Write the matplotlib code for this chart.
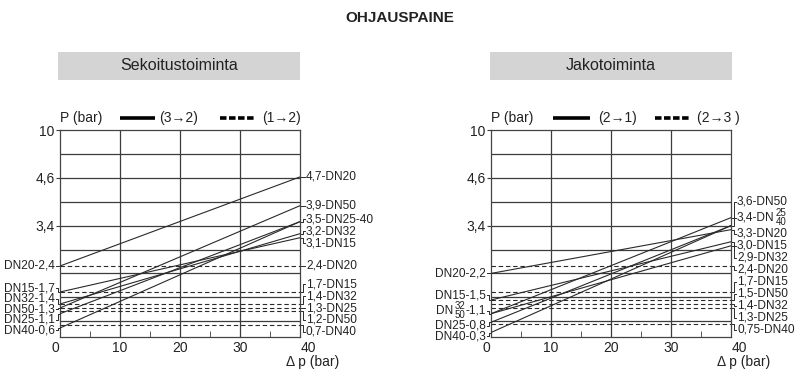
import numpy as np
import matplotlib
matplotlib.use('Agg')
import matplotlib.pyplot as plt
import matplotlib.transforms as mtransforms
from matplotlib.patches import Rectangle
from matplotlib.ticker import NullLocator

plt.rcParams['font.family'] = ['Liberation Sans Narrow', 'Liberation Sans', 'DejaVu Sans']

# ---- data ----
SIZES = ['15', '20', '25', '32', '40', '50']
DP = [0, 40]

MIX_START = [1.7, 2.4, 1.1, 1.4, 0.6, 1.3]    # (3→2) at dp = 0
MIX_END = [3.1, 4.7, 3.5, 3.2, 3.5, 3.9]      # (3→2) at dp = 40
MIX_FLAT = [1.7, 2.4, 1.3, 1.4, 0.7, 1.2]     # (1→2)

DIV_START = [1.5, 2.2, 0.8, 1.1, 0.3, 1.1]    # (2→1) at dp = 0
DIV_END = [3.0, 3.3, 3.4, 2.9, 3.4, 3.6]      # (2→1) at dp = 40
DIV_FLAT = [1.7, 2.4, 1.3, 1.4, 0.75, 1.5]    # (2→3)

Y_TICKS = [3.4, 4.6, 10]
X_TICKS = [0, 10, 20, 30, 40]

# the P axis on the paper is stretched: piecewise map P -> px above the x axis
P_ANCH = [0, 0.6, 1.3, 1.7, 2.4, 3.4, 4.6, 10]
POS_ANCH = [0, 9, 29, 45, 71, 111.4, 159.2, 207]
GRID_POS = 207 - 23.9*np.arange(1, 9)

AX_W, AX_H = 240, 207
LINE_C = '#2a2a2a'
GRID_C = '#3c3c3c'


def to_pos(p):
    return np.interp(p, P_ANCH, POS_ANCH)


def to_p(s):
    return np.interp(s, POS_ANCH, P_ANCH)


def fmt(v):
    s = f'{v:.2f}'.rstrip('0')
    if s.endswith('.'):
        s += '0'
    return s.replace('.', ',')


def spread(pos, heights, n_iter=300):
    """push label positions apart so they do not overlap"""
    y = np.array(pos, float)
    h = np.array(heights, float)
    idx = np.argsort(y)
    for _ in range(n_iter):
        for a, b in zip(idx[:-1], idx[1:]):
            need = (h[a] + h[b])/2
            d = y[b] - y[a]
            if d < need - 1e-6:
                s = (need - d)/2
                y[a] -= s
                y[b] += s
    return y


def groups(values):
    out = {}
    for n, v in zip(SIZES, values):
        out.setdefault(v, []).append(n)
    return list(out.items())


def put_labels(ax, items, side, gap, stack):
    fig = ax.figure
    r = fig.canvas.get_renderer()
    tr = mtransforms.Affine2D().scale(1/AX_W, 1/AX_H) + ax.transAxes
    yl = np.array([to_pos(v) for v, _ in items])
    hs = [20 if (len(n) > 1 and stack) else gap for _, n in items]
    yt = spread(yl, hs)
    kw = dict(transform=tr, va='center', fontsize=8.6, color='#222222', clip_on=False)
    for (v, names), a, b in zip(items, yl, yt):
        if side == 'left':
            ax.plot([0, -2, -2, -4], [a, a, b, b], transform=tr, color=LINE_C,
                    lw=0.7, clip_on=False)
            x = -5
            if len(names) > 1 and stack:
                t = ax.text(x, b, f'-{fmt(v)}', ha='right', **kw)
                x -= t.get_window_extent(r).width + 0.5
                kw2 = dict(kw, fontsize=7)
                t1 = ax.text(x, b + 4.5, names[0], ha='right', **kw2)
                ax.text(x, b - 4.5, names[1], ha='right', **kw2)
                x -= t1.get_window_extent(r).width + 1
                ax.text(x, b, 'DN', ha='right', **kw)
            else:
                ax.text(x, b, f"DN{'-'.join(names)}-{fmt(v)}", ha='right', **kw)
        else:
            ax.plot([AX_W, AX_W + 3, AX_W + 3, AX_W + 5], [a, a, b, b], transform=tr,
                    color=LINE_C, lw=0.7, clip_on=False)
            x = AX_W + 6
            if len(names) > 1 and stack:
                t = ax.text(x, b, f'{fmt(v)}-DN', ha='left', **kw)
                x += t.get_window_extent(r).width + 1
                kw2 = dict(kw, fontsize=7)
                ax.text(x, b + 4.5, names[0], ha='left', **kw2)
                ax.text(x, b - 4.5, names[1], ha='left', **kw2)
            else:
                ax.text(x, b, f"{fmt(v)}-DN{'-'.join(names)}", ha='left', **kw)


def panel(ax, start, end, flat, leg, stack):
    ax.set_yscale('function', functions=(to_pos, to_p))
    ax.set_xlim(0, 40)
    ax.set_ylim(0, 10)
    ax.yaxis.set_minor_locator(NullLocator())
    for gp in GRID_POS:
        ax.axhline(to_p(gp), color=GRID_C, lw=0.9, zorder=1)
    for gx in (10, 20, 30):
        ax.axvline(gx, color=GRID_C, lw=0.9, zorder=1)
    for s, e in zip(start, end):
        ax.plot(DP, [s, e], color=LINE_C, lw=0.8, zorder=3)
    for f in flat:
        ax.plot(DP, [f, f], color=LINE_C, lw=0.8, ls=(0, (4, 2.5)), zorder=2)

    ax.set_xticks(X_TICKS)
    ax.set_xticklabels([str(x) for x in X_TICKS])
    ax.set_xticks([5, 15, 25, 35], minor=True)
    ax.tick_params(axis='x', which='major', length=0, pad=3, labelsize=10, colors='#222222')
    ax.tick_params(axis='x', which='minor', direction='in', length=4, color=GRID_C)
    # end labels sit a little outside the box on the paper
    labs = ax.get_xticklabels()
    for lab, dx in ((labs[0], -5), (labs[-1], 8)):
        lab.set_transform(lab.get_transform() +
                          mtransforms.ScaledTranslation(dx/100, 0, ax.figure.dpi_scale_trans))
    ax.set_yticks(Y_TICKS)
    ax.set_yticklabels([f'{v:g}'.replace('.', ',') for v in Y_TICKS])
    ax.tick_params(axis='y', direction='out', length=3, pad=1, labelsize=10,
                   color=GRID_C, labelcolor='#222222')
    for sp in ax.spines.values():
        sp.set_color('#444444')
        sp.set_linewidth(0.9)

    put_labels(ax, groups(start), 'left', 10.5, True)
    right_items = groups(end) + groups(flat)
    put_labels(ax, right_items, 'right', 12, stack)

    # legend row above the box
    tr = mtransforms.Affine2D().scale(1/AX_W, 1/AX_H) + ax.transAxes
    yy = AX_H + 12
    kw = dict(transform=tr, va='center', ha='left', fontsize=10, color='#222222')
    ax.text(0, yy, 'P (bar)', **kw)
    ax.plot(leg[0], [yy, yy], transform=tr, color='black', lw=2.6,
            solid_capstyle='butt', clip_on=False)
    ax.text(leg[1], yy, leg[2], **kw)
    ax.plot(leg[3], [yy, yy], transform=tr, color='black', lw=2.6,
            ls=(0, (1.8, 0.7)), clip_on=False)
    ax.text(leg[4], yy, leg[5], **kw)
    ax.text(AX_W + 13, -25, 'Δ p (bar)', transform=tr, va='center', ha='center',
            fontsize=10, color='#222222')


fig = plt.figure(figsize=(8, 3.79), dpi=100)
fig.text(0.5, 1 - 18/379, 'OHJAUSPAINE', ha='center', va='center',
         fontsize=11, fontweight='bold', color='#222222')

boxes = [(58, 'Sekoitustoiminta'), (490, 'Jakotoiminta')]
for bx, name in boxes:
    fig.patches.append(Rectangle((bx/800, 1 - 80/379), 242/800, 28/379,
                                 transform=fig.transFigure, facecolor='#d4d4d4',
                                 edgecolor='none'))
    fig.text((bx + 121)/800, 1 - 66/379, name, ha='center', va='center',
             fontsize=11.5, color='#222222')

ax1 = fig.add_axes([60/800, 42/379, AX_W/800, AX_H/379])
ax2 = fig.add_axes([491/800, 42/379, AX_W/800, AX_H/379])

panel(ax1, MIX_START, MIX_END, MIX_FLAT,
      ([60, 95], 99, '(3→2)', [160, 195], 202, '(1→2)'), False)
panel(ax2, DIV_START, DIV_END, DIV_FLAT,
      ([62, 99], 107, '(2→1)', [164, 199], 206, '(2→3 )'), True)

fig.savefig('out.png', dpi=100)
